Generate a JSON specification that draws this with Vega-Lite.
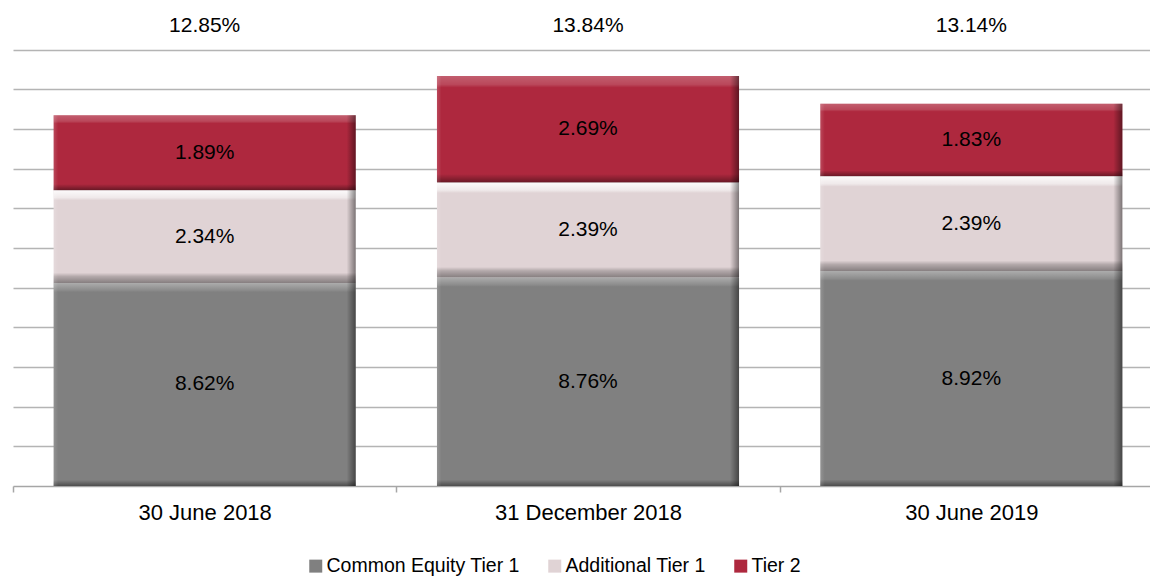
{
  "$schema": "https://vega.github.io/schema/vega-lite/v6.json",
  "autosize": {"type": "none"},
  "padding": {"left": 13, "top": 18, "right": 0, "bottom": 92},
  "width": 1150,
  "height": 468,
  "background": "white",
  "config": {"view": {"stroke": null}, "font": "Liberation Sans"},
  "data": {
    "values": [
      {"date": "30 June 2018", "series": "Common Equity Tier 1", "value": 0.0862},
      {"date": "30 June 2018", "series": "Additional Tier 1", "value": 0.0234},
      {"date": "30 June 2018", "series": "Tier 2", "value": 0.0189},
      {"date": "31 December 2018", "series": "Common Equity Tier 1", "value": 0.0876},
      {"date": "31 December 2018", "series": "Additional Tier 1", "value": 0.0239},
      {"date": "31 December 2018", "series": "Tier 2", "value": 0.0269},
      {"date": "30 June 2019", "series": "Common Equity Tier 1", "value": 0.0892},
      {"date": "30 June 2019", "series": "Additional Tier 1", "value": 0.0239},
      {"date": "30 June 2019", "series": "Tier 2", "value": 0.0183}
    ]
  },
  "transform": [
    {"calculate": "indexof(['Common Equity Tier 1','Additional Tier 1','Tier 2'], datum.series)", "as": "ord"},
    {"stack": "value", "groupby": ["date"], "sort": [{"field": "ord", "order": "ascending"}], "as": ["v0", "v1"]},
    {"calculate": "(max(datum.v0, 0.035) + datum.v1) / 2", "as": "mid"}
  ],
  "encoding": {
    "x": {
      "field": "date",
      "type": "nominal",
      "sort": ["30 June 2018", "31 December 2018", "30 June 2019"],
      "scale": {"paddingInner": 0, "paddingOuter": 0},
      "axis": {
        "title": null,
        "labelAngle": 0,
        "labelFontSize": 22,
        "labelColor": "#000000",
        "labelPadding": 10,
        "labelLimit": 400,
        "tickBand": "extent",
        "tickSize": 6,
        "tickColor": "#a6a6a6",
        "tickWidth": 1.5,
        "domainColor": "#a6a6a6",
        "domainWidth": 1.5,
        "grid": false
      }
    }
  },
  "layer": [
    {
      "mark": {"type": "bar", "stroke": null, "width": {"band": 0.788}},
      "encoding": {
        "y": {
          "field": "v1",
          "type": "quantitative",
          "scale": {"domain": [0.035, 0.153], "clamp": true, "zero": false, "nice": false},
          "axis": {
            "values": [0.045, 0.055, 0.065, 0.075, 0.085, 0.095, 0.105, 0.115, 0.125, 0.135, 0.145],
            "grid": true,
            "gridColor": "#b4b4b4",
            "gridWidth": 1.5,
            "domain": false,
            "ticks": false,
            "labels": false,
            "title": null
          }
        },
        "y2": {"field": "v0"},
        "color": {
          "field": "series",
          "type": "nominal",
          "scale": {
            "domain": ["Common Equity Tier 1", "Additional Tier 1", "Tier 2"],
            "range": ["#808080", "#e0d3d5", "#ae283e"]
          },
          "legend": {
            "title": null,
            "orient": "none",
            "legendX": 293,
            "legendY": 538,
            "direction": "horizontal",
            "symbolType": "square",
            "symbolSize": 169,
            "symbolStrokeWidth": 0,
            "labelFontSize": 19.5,
            "labelColor": "#000000",
            "labelOffset": 1,
            "columnPadding": 25,
            "labelLimit": 400
          }
        }
      }
    },
    {
      "transform": [{"filter": "datum.series == 'Common Equity Tier 1'"}],
      "mark": {
        "type": "bar",
        "stroke": null,
        "width": {"band": 0.788},
        "fill": {
          "gradient": "linear", "x1": 0, "y1": 0, "x2": 0, "y2": 1,
          "stops": [
            {"offset": 0, "color": "rgba(255,255,255,0.35)"},
            {"offset": 0.035, "color": "rgba(255,255,255,0.1)"},
            {"offset": 0.045, "color": "rgba(255,255,255,0)"},
            {"offset": 0.97, "color": "rgba(0,0,0,0)"},
            {"offset": 1, "color": "rgba(0,0,0,0.4)"}
          ]
        }
      },
      "encoding": {"y": {"field": "v1", "type": "quantitative"}, "y2": {"field": "v0"}}
    },
    {
      "transform": [{"filter": "datum.series == 'Additional Tier 1'"}],
      "mark": {
        "type": "bar",
        "stroke": null,
        "width": {"band": 0.788},
        "fill": {
          "gradient": "linear", "x1": 0, "y1": 0, "x2": 0, "y2": 1,
          "stops": [
            {"offset": 0, "color": "rgba(255,255,255,0.9)"},
            {"offset": 0.08, "color": "rgba(255,255,255,0.5)"},
            {"offset": 0.11, "color": "rgba(255,255,255,0)"},
            {"offset": 0.89, "color": "rgba(0,0,0,0)"},
            {"offset": 0.93, "color": "rgba(0,0,0,0.2)"},
            {"offset": 1, "color": "rgba(0,0,0,0.4)"}
          ]
        }
      },
      "encoding": {"y": {"field": "v1", "type": "quantitative"}, "y2": {"field": "v0"}}
    },
    {
      "transform": [{"filter": "datum.series == 'Tier 2'"}],
      "mark": {
        "type": "bar",
        "stroke": null,
        "width": {"band": 0.788},
        "fill": {
          "gradient": "linear", "x1": 0, "y1": 0, "x2": 0, "y2": 1,
          "stops": [
            {"offset": 0, "color": "rgba(255,255,255,0.25)"},
            {"offset": 0.08, "color": "rgba(255,255,255,0.15)"},
            {"offset": 0.11, "color": "rgba(255,255,255,0)"},
            {"offset": 0.92, "color": "rgba(0,0,0,0)"},
            {"offset": 1, "color": "rgba(0,0,0,0.4)"}
          ]
        }
      },
      "encoding": {"y": {"field": "v1", "type": "quantitative"}, "y2": {"field": "v0"}}
    },
    {
      "mark": {
        "type": "bar",
        "stroke": null,
        "width": {"band": 0.788},
        "fill": {
          "gradient": "linear", "x1": 0, "y1": 0, "x2": 1, "y2": 0,
          "stops": [
            {"offset": 0, "color": "rgba(255,255,255,0.15)"},
            {"offset": 0.015, "color": "rgba(255,255,255,0)"},
            {"offset": 0.97, "color": "rgba(0,0,0,0)"},
            {"offset": 1, "color": "rgba(0,0,0,0.45)"}
          ]
        }
      },
      "encoding": {"y": {"field": "v1", "type": "quantitative"}, "y2": {"field": "v0"}}
    },
    {
      "mark": {"type": "text", "fontSize": 21, "color": "#000000", "baseline": "middle", "align": "center"},
      "encoding": {
        "y": {"field": "mid", "type": "quantitative"},
        "text": {"field": "value", "type": "quantitative", "format": ".2%"}
      }
    },
    {
      "transform": [{"aggregate": [{"op": "sum", "field": "value", "as": "total"}], "groupby": ["date"]}],
      "mark": {"type": "text", "fontSize": 21, "color": "#000000", "baseline": "middle", "align": "center"},
      "encoding": {
        "y": {"datum": 0.151, "type": "quantitative"},
        "text": {"field": "total", "type": "quantitative", "format": ".2%"}
      }
    }
  ]
}
